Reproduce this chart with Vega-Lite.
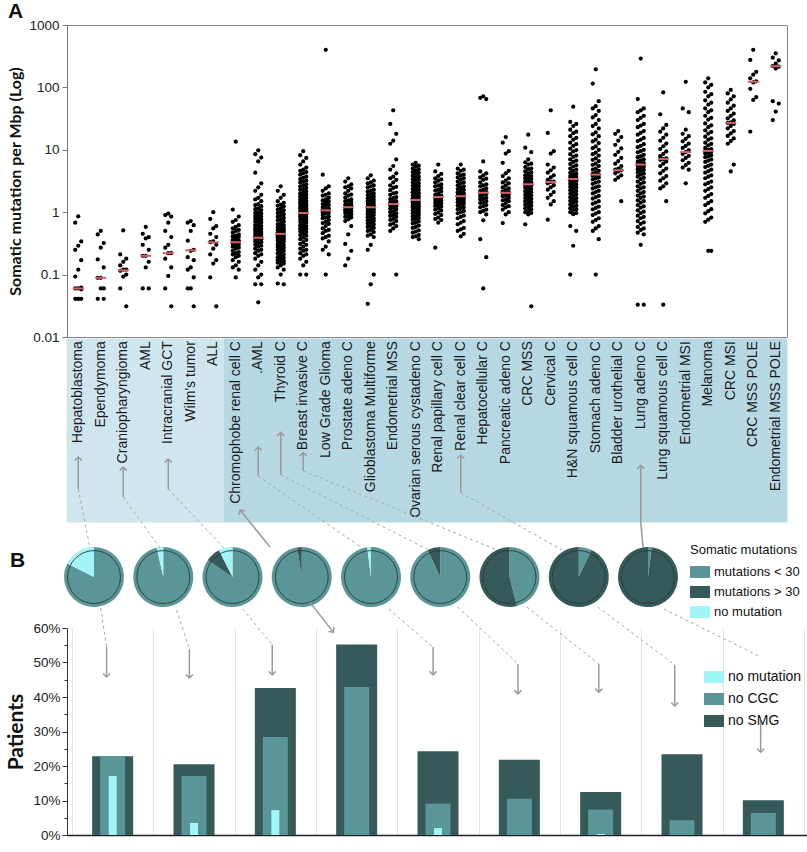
{
"$schema":"https://vega.github.io/schema/vega-lite/v6.json",
"background":"white",
"padding":{"left":5,"top":0,"right":0,"bottom":0},
"bounds":"flush",
"spacing":2,
"resolve":{"scale":{"color":"independent"},"legend":{"color":"independent"}},
"config":{
 "font":"Liberation Sans",
 "view":{"stroke":null},
 "axis":{"labelFont":"Liberation Sans","labelFontSize":13.5,"labelColor":"#222","titleColor":"#111","domainColor":"#555","tickColor":"#555"},
 "legend":{"labelFont":"Liberation Sans","titleFont":"Liberation Sans","labelColor":"#111","titleColor":"#111"},
 "title":{"font":"Liberation Sans","color":"#111"}
},
"datasets":{
"pts":[
{"c":0,"v":0.86},{"c":0,"v":0.68},{"c":0,"v":0.34},{"c":0,"v":0.29},{"c":0,"v":0.25},{"c":0,"v":0.17},{"c":0,"v":0.12},{"c":0,"v":0.093},{"c":0,"v":0.062},{"c":0,"v":0.06},{"c":0,"v":0.06},{"c":0,"v":0.058},{"c":0,"v":0.041},{"c":0,"v":0.041},{"c":0,"v":0.041},{"c":0,"v":0.041},
{"c":1,"v":0.5},{"c":1,"v":0.44},{"c":1,"v":0.32},{"c":1,"v":0.27},{"c":1,"v":0.175},{"c":1,"v":0.13},{"c":1,"v":0.089},{"c":1,"v":0.089},{"c":1,"v":0.06},{"c":1,"v":0.06},{"c":1,"v":0.041},{"c":1,"v":0.041},
{"c":2,"v":0.51},{"c":2,"v":0.21},{"c":2,"v":0.18},{"c":2,"v":0.16},{"c":2,"v":0.14},{"c":2,"v":0.12},{"c":2,"v":0.12},{"c":2,"v":0.115},{"c":2,"v":0.1},{"c":2,"v":0.093},{"c":2,"v":0.06},{"c":2,"v":0.031},
{"c":3,"v":0.58},{"c":3,"v":0.45},{"c":3,"v":0.4},{"c":3,"v":0.38},{"c":3,"v":0.3},{"c":3,"v":0.25},{"c":3,"v":0.2},{"c":3,"v":0.2},{"c":3,"v":0.16},{"c":3,"v":0.13},{"c":3,"v":0.06},{"c":3,"v":0.06},
{"c":4,"v":0.95},{"c":4,"v":0.9},{"c":4,"v":0.85},{"c":4,"v":0.68},{"c":4,"v":0.5},{"c":4,"v":0.4},{"c":4,"v":0.3},{"c":4,"v":0.27},{"c":4,"v":0.22},{"c":4,"v":0.22},{"c":4,"v":0.18},{"c":4,"v":0.13},{"c":4,"v":0.095},{"c":4,"v":0.06},{"c":4,"v":0.031},
{"c":5,"v":0.72},{"c":5,"v":0.68},{"c":5,"v":0.62},{"c":5,"v":0.5},{"c":5,"v":0.35},{"c":5,"v":0.25},{"c":5,"v":0.24},{"c":5,"v":0.19},{"c":5,"v":0.17},{"c":5,"v":0.13},{"c":5,"v":0.12},{"c":5,"v":0.09},{"c":5,"v":0.06},{"c":5,"v":0.06},{"c":5,"v":0.031},
{"c":6,"v":1.0},{"c":6,"v":0.78},{"c":6,"v":0.6},{"c":6,"v":0.55},{"c":6,"v":0.45},{"c":6,"v":0.4},{"c":6,"v":0.34},{"c":6,"v":0.33},{"c":6,"v":0.3},{"c":6,"v":0.26},{"c":6,"v":0.21},{"c":6,"v":0.17},{"c":6,"v":0.15},{"c":6,"v":0.09},{"c":6,"v":0.031},
{"c":7,"v":13.5},{"c":7,"v":1.1},{"c":7,"v":0.85},{"c":7,"v":0.75},{"c":7,"v":0.7},{"c":7,"v":0.62},{"c":7,"v":0.58},{"c":7,"v":0.55},{"c":7,"v":0.5},{"c":7,"v":0.47},{"c":7,"v":0.44},{"c":7,"v":0.42},{"c":7,"v":0.4},{"c":7,"v":0.38},{"c":7,"v":0.36},{"c":7,"v":0.34},{"c":7,"v":0.33},{"c":7,"v":0.33},{"c":7,"v":0.32},{"c":7,"v":0.3},{"c":7,"v":0.29},{"c":7,"v":0.27},{"c":7,"v":0.26},{"c":7,"v":0.24},{"c":7,"v":0.23},{"c":7,"v":0.21},{"c":7,"v":0.2},{"c":7,"v":0.19},{"c":7,"v":0.17},{"c":7,"v":0.16},{"c":7,"v":0.14},{"c":7,"v":0.13},{"c":7,"v":0.12},{"c":7,"v":0.09},{"c":7,"v":0.52},{"c":7,"v":0.41},{"c":7,"v":0.35},{"c":7,"v":0.31},{"c":7,"v":0.28},{"c":7,"v":0.22},
{"c":8,"v":9.8},{"c":8,"v":8.5},{"c":8,"v":7.5},{"c":8,"v":6.5},{"c":8,"v":4.3},{"c":8,"v":2.9},{"c":8,"v":2.5},{"c":8,"v":2.2},{"c":8,"v":1.9},{"c":8,"v":1.7},{"c":8,"v":1.5},{"c":8,"v":1.35},{"c":8,"v":1.25},{"c":8,"v":1.15},{"c":8,"v":1.08},{"c":8,"v":1.0},{"c":8,"v":0.95},{"c":8,"v":0.9},{"c":8,"v":0.85},{"c":8,"v":0.8},{"c":8,"v":0.76},{"c":8,"v":0.72},{"c":8,"v":0.68},{"c":8,"v":0.64},{"c":8,"v":0.6},{"c":8,"v":0.57},{"c":8,"v":0.54},{"c":8,"v":0.51},{"c":8,"v":0.48},{"c":8,"v":0.46},{"c":8,"v":0.44},{"c":8,"v":0.42},{"c":8,"v":0.4},{"c":8,"v":0.39},{"c":8,"v":0.38},{"c":8,"v":0.36},{"c":8,"v":0.34},{"c":8,"v":0.32},{"c":8,"v":0.3},{"c":8,"v":0.28},{"c":8,"v":0.26},{"c":8,"v":0.24},{"c":8,"v":0.22},{"c":8,"v":0.2},{"c":8,"v":0.18},{"c":8,"v":0.16},{"c":8,"v":0.14},{"c":8,"v":0.12},{"c":8,"v":0.1},{"c":8,"v":0.09},{"c":8,"v":0.07},{"c":8,"v":0.07},{"c":8,"v":0.036},{"c":8,"v":1.6},{"c":8,"v":1.3},{"c":8,"v":1.12},{"c":8,"v":0.98},{"c":8,"v":0.87},{"c":8,"v":0.78},{"c":8,"v":0.7},{"c":8,"v":0.62},{"c":8,"v":0.55},{"c":8,"v":0.5},{"c":8,"v":0.45},{"c":8,"v":0.41},{"c":8,"v":0.37},{"c":8,"v":0.33},{"c":8,"v":0.29},{"c":8,"v":0.25},{"c":8,"v":0.21},
{"c":9,"v":2.6},{"c":9,"v":2.2},{"c":9,"v":1.9},{"c":9,"v":1.7},{"c":9,"v":1.5},{"c":9,"v":1.41},{"c":9,"v":1.32},{"c":9,"v":1.23},{"c":9,"v":1.15},{"c":9,"v":1.07},{"c":9,"v":1.0},{"c":9,"v":0.93},{"c":9,"v":0.87},{"c":9,"v":0.81},{"c":9,"v":0.76},{"c":9,"v":0.71},{"c":9,"v":0.66},{"c":9,"v":0.62},{"c":9,"v":0.58},{"c":9,"v":0.55},{"c":9,"v":0.52},{"c":9,"v":0.5},{"c":9,"v":0.48},{"c":9,"v":0.46},{"c":9,"v":0.46},{"c":9,"v":0.44},{"c":9,"v":0.42},{"c":9,"v":0.41},{"c":9,"v":0.4},{"c":9,"v":0.38},{"c":9,"v":0.36},{"c":9,"v":0.35},{"c":9,"v":0.33},{"c":9,"v":0.31},{"c":9,"v":0.29},{"c":9,"v":0.27},{"c":9,"v":0.26},{"c":9,"v":0.25},{"c":9,"v":0.23},{"c":9,"v":0.22},{"c":9,"v":0.2},{"c":9,"v":0.19},{"c":9,"v":0.18},{"c":9,"v":0.17},{"c":9,"v":0.16},{"c":9,"v":0.15},{"c":9,"v":0.14},{"c":9,"v":0.13},{"c":9,"v":0.12},{"c":9,"v":0.1},{"c":9,"v":0.072},{"c":9,"v":0.07},{"c":9,"v":1.28},{"c":9,"v":1.1},{"c":9,"v":0.97},{"c":9,"v":0.84},{"c":9,"v":0.74},{"c":9,"v":0.64},{"c":9,"v":0.57},{"c":9,"v":0.51},{"c":9,"v":0.47},{"c":9,"v":0.43},{"c":9,"v":0.39},{"c":9,"v":0.37},{"c":9,"v":0.34},{"c":9,"v":0.3},{"c":9,"v":0.28},{"c":9,"v":0.24},{"c":9,"v":0.21},{"c":9,"v":0.185},{"c":9,"v":0.165},{"c":9,"v":0.155},
{"c":10,"v":9.5},{"c":10,"v":8.2},{"c":10,"v":7.4},{"c":10,"v":6.5},{"c":10,"v":5.8},{"c":10,"v":5.2},{"c":10,"v":4.8},{"c":10,"v":4.4},{"c":10,"v":4.0},{"c":10,"v":3.7},{"c":10,"v":3.4},{"c":10,"v":3.2},{"c":10,"v":3.0},{"c":10,"v":2.8},{"c":10,"v":2.6},{"c":10,"v":2.45},{"c":10,"v":2.3},{"c":10,"v":2.15},{"c":10,"v":2.0},{"c":10,"v":1.9},{"c":10,"v":1.8},{"c":10,"v":1.7},{"c":10,"v":1.6},{"c":10,"v":1.52},{"c":10,"v":1.45},{"c":10,"v":1.38},{"c":10,"v":1.32},{"c":10,"v":1.26},{"c":10,"v":1.2},{"c":10,"v":1.15},{"c":10,"v":1.1},{"c":10,"v":1.05},{"c":10,"v":1.0},{"c":10,"v":1.0},{"c":10,"v":0.96},{"c":10,"v":0.92},{"c":10,"v":0.88},{"c":10,"v":0.84},{"c":10,"v":0.8},{"c":10,"v":0.76},{"c":10,"v":0.72},{"c":10,"v":0.68},{"c":10,"v":0.64},{"c":10,"v":0.6},{"c":10,"v":0.57},{"c":10,"v":0.54},{"c":10,"v":0.51},{"c":10,"v":0.48},{"c":10,"v":0.45},{"c":10,"v":0.42},{"c":10,"v":0.39},{"c":10,"v":0.36},{"c":10,"v":0.33},{"c":10,"v":0.3},{"c":10,"v":0.28},{"c":10,"v":0.26},{"c":10,"v":0.24},{"c":10,"v":0.22},{"c":10,"v":0.2},{"c":10,"v":0.18},{"c":10,"v":0.16},{"c":10,"v":0.14},{"c":10,"v":0.1},{"c":10,"v":0.1},{"c":10,"v":4.6},{"c":10,"v":4.2},{"c":10,"v":3.55},{"c":10,"v":3.1},{"c":10,"v":2.7},{"c":10,"v":2.35},{"c":10,"v":2.05},{"c":10,"v":1.85},{"c":10,"v":1.65},{"c":10,"v":1.48},{"c":10,"v":1.35},{"c":10,"v":1.23},{"c":10,"v":1.12},{"c":10,"v":1.02},{"c":10,"v":0.94},{"c":10,"v":0.86},{"c":10,"v":0.78},{"c":10,"v":0.7},{"c":10,"v":0.62},{"c":10,"v":0.55},{"c":10,"v":0.49},{"c":10,"v":0.43},{"c":10,"v":0.37},{"c":10,"v":0.31},{"c":10,"v":0.25},{"c":10,"v":0.21},
{"c":11,"v":400},{"c":11,"v":4.0},{"c":11,"v":2.6},{"c":11,"v":2.4},{"c":11,"v":2.2},{"c":11,"v":2.0},{"c":11,"v":1.85},{"c":11,"v":1.72},{"c":11,"v":1.6},{"c":11,"v":1.5},{"c":11,"v":1.42},{"c":11,"v":1.35},{"c":11,"v":1.28},{"c":11,"v":1.21},{"c":11,"v":1.15},{"c":11,"v":1.1},{"c":11,"v":1.07},{"c":11,"v":1.04},{"c":11,"v":1.0},{"c":11,"v":0.95},{"c":11,"v":0.9},{"c":11,"v":0.85},{"c":11,"v":0.8},{"c":11,"v":0.75},{"c":11,"v":0.7},{"c":11,"v":0.65},{"c":11,"v":0.6},{"c":11,"v":0.55},{"c":11,"v":0.5},{"c":11,"v":0.46},{"c":11,"v":0.42},{"c":11,"v":0.38},{"c":11,"v":0.34},{"c":11,"v":0.28},{"c":11,"v":0.25},{"c":11,"v":0.21},{"c":11,"v":0.1},{"c":11,"v":1.9},{"c":11,"v":1.55},{"c":11,"v":1.31},{"c":11,"v":1.12},{"c":11,"v":0.97},{"c":11,"v":0.82},{"c":11,"v":0.67},{"c":11,"v":0.52},{"c":11,"v":0.4},
{"c":12,"v":3.5},{"c":12,"v":3.1},{"c":12,"v":2.8},{"c":12,"v":2.6},{"c":12,"v":2.4},{"c":12,"v":2.2},{"c":12,"v":2.0},{"c":12,"v":1.85},{"c":12,"v":1.72},{"c":12,"v":1.6},{"c":12,"v":1.5},{"c":12,"v":1.42},{"c":12,"v":1.35},{"c":12,"v":1.28},{"c":12,"v":1.22},{"c":12,"v":1.17},{"c":12,"v":1.12},{"c":12,"v":1.07},{"c":12,"v":1.02},{"c":12,"v":0.97},{"c":12,"v":0.92},{"c":12,"v":0.87},{"c":12,"v":0.82},{"c":12,"v":0.77},{"c":12,"v":0.72},{"c":12,"v":0.6},{"c":12,"v":0.44},{"c":12,"v":0.31},{"c":12,"v":0.24},{"c":12,"v":0.18},{"c":12,"v":0.14},{"c":12,"v":2.5},{"c":12,"v":1.92},{"c":12,"v":1.55},{"c":12,"v":1.31},{"c":12,"v":1.14},{"c":12,"v":0.99},{"c":12,"v":0.84},
{"c":13,"v":3.9},{"c":13,"v":3.5},{"c":13,"v":3.2},{"c":13,"v":2.9},{"c":13,"v":2.7},{"c":13,"v":2.5},{"c":13,"v":2.3},{"c":13,"v":2.15},{"c":13,"v":2.0},{"c":13,"v":1.88},{"c":13,"v":1.77},{"c":13,"v":1.67},{"c":13,"v":1.58},{"c":13,"v":1.5},{"c":13,"v":1.42},{"c":13,"v":1.35},{"c":13,"v":1.28},{"c":13,"v":1.22},{"c":13,"v":1.2},{"c":13,"v":1.16},{"c":13,"v":1.1},{"c":13,"v":1.05},{"c":13,"v":1.0},{"c":13,"v":0.95},{"c":13,"v":0.9},{"c":13,"v":0.85},{"c":13,"v":0.8},{"c":13,"v":0.76},{"c":13,"v":0.72},{"c":13,"v":0.68},{"c":13,"v":0.64},{"c":13,"v":0.6},{"c":13,"v":0.56},{"c":13,"v":0.52},{"c":13,"v":0.48},{"c":13,"v":0.44},{"c":13,"v":0.4},{"c":13,"v":0.3},{"c":13,"v":0.25},{"c":13,"v":0.1},{"c":13,"v":0.07},{"c":13,"v":0.034},{"c":13,"v":3.0},{"c":13,"v":2.6},{"c":13,"v":2.2},{"c":13,"v":1.95},{"c":13,"v":1.72},{"c":13,"v":1.54},{"c":13,"v":1.38},{"c":13,"v":1.25},{"c":13,"v":1.13},{"c":13,"v":1.02},{"c":13,"v":0.92},{"c":13,"v":0.83},{"c":13,"v":0.74},{"c":13,"v":0.66},{"c":13,"v":0.58},{"c":13,"v":0.5},{"c":13,"v":0.42},
{"c":14,"v":43},{"c":14,"v":26},{"c":14,"v":18},{"c":14,"v":14},{"c":14,"v":12.5},{"c":14,"v":7},{"c":14,"v":5.5},{"c":14,"v":4.8},{"c":14,"v":4.2},{"c":14,"v":3.7},{"c":14,"v":3.3},{"c":14,"v":3.0},{"c":14,"v":2.7},{"c":14,"v":2.45},{"c":14,"v":2.25},{"c":14,"v":2.05},{"c":14,"v":1.9},{"c":14,"v":1.75},{"c":14,"v":1.62},{"c":14,"v":1.5},{"c":14,"v":1.42},{"c":14,"v":1.35},{"c":14,"v":1.3},{"c":14,"v":1.25},{"c":14,"v":1.18},{"c":14,"v":1.1},{"c":14,"v":1.03},{"c":14,"v":0.96},{"c":14,"v":0.9},{"c":14,"v":0.84},{"c":14,"v":0.78},{"c":14,"v":0.72},{"c":14,"v":0.66},{"c":14,"v":0.6},{"c":14,"v":0.55},{"c":14,"v":0.5},{"c":14,"v":0.1},{"c":14,"v":3.5},{"c":14,"v":2.55},{"c":14,"v":2.0},{"c":14,"v":1.68},{"c":14,"v":1.46},{"c":14,"v":1.28},{"c":14,"v":1.14},{"c":14,"v":1.0},{"c":14,"v":0.87},{"c":14,"v":0.75},{"c":14,"v":0.63},
{"c":15,"v":6.2},{"c":15,"v":5.8},{"c":15,"v":5.4},{"c":15,"v":5.0},{"c":15,"v":4.7},{"c":15,"v":4.4},{"c":15,"v":4.1},{"c":15,"v":3.85},{"c":15,"v":3.6},{"c":15,"v":3.4},{"c":15,"v":3.2},{"c":15,"v":3.0},{"c":15,"v":2.8},{"c":15,"v":2.65},{"c":15,"v":2.5},{"c":15,"v":2.35},{"c":15,"v":2.2},{"c":15,"v":2.08},{"c":15,"v":1.96},{"c":15,"v":1.85},{"c":15,"v":1.75},{"c":15,"v":1.66},{"c":15,"v":1.6},{"c":15,"v":1.57},{"c":15,"v":1.52},{"c":15,"v":1.45},{"c":15,"v":1.38},{"c":15,"v":1.31},{"c":15,"v":1.25},{"c":15,"v":1.19},{"c":15,"v":1.13},{"c":15,"v":1.07},{"c":15,"v":1.01},{"c":15,"v":0.96},{"c":15,"v":0.91},{"c":15,"v":0.86},{"c":15,"v":0.81},{"c":15,"v":0.76},{"c":15,"v":0.71},{"c":15,"v":0.66},{"c":15,"v":0.61},{"c":15,"v":0.56},{"c":15,"v":0.51},{"c":15,"v":0.47},{"c":15,"v":0.43},{"c":15,"v":0.4},{"c":15,"v":0.37},{"c":15,"v":5.6},{"c":15,"v":4.9},{"c":15,"v":4.25},{"c":15,"v":3.7},{"c":15,"v":3.3},{"c":15,"v":2.9},{"c":15,"v":2.57},{"c":15,"v":2.28},{"c":15,"v":2.02},{"c":15,"v":1.8},{"c":15,"v":1.62},{"c":15,"v":1.48},{"c":15,"v":1.34},{"c":15,"v":1.22},{"c":15,"v":1.1},{"c":15,"v":0.98},{"c":15,"v":0.88},{"c":15,"v":0.78},{"c":15,"v":0.68},{"c":15,"v":0.58},{"c":15,"v":0.49},{"c":15,"v":0.41},
{"c":16,"v":5.8},{"c":16,"v":4.5},{"c":16,"v":4.1},{"c":16,"v":3.8},{"c":16,"v":3.5},{"c":16,"v":3.2},{"c":16,"v":3.0},{"c":16,"v":2.8},{"c":16,"v":2.6},{"c":16,"v":2.45},{"c":16,"v":2.3},{"c":16,"v":2.15},{"c":16,"v":2.0},{"c":16,"v":1.9},{"c":16,"v":1.8},{"c":16,"v":1.75},{"c":16,"v":1.7},{"c":16,"v":1.62},{"c":16,"v":1.54},{"c":16,"v":1.46},{"c":16,"v":1.38},{"c":16,"v":1.3},{"c":16,"v":1.22},{"c":16,"v":1.14},{"c":16,"v":1.06},{"c":16,"v":0.98},{"c":16,"v":0.9},{"c":16,"v":0.82},{"c":16,"v":0.75},{"c":16,"v":0.68},{"c":16,"v":0.27},{"c":16,"v":3.35},{"c":16,"v":2.7},{"c":16,"v":2.22},{"c":16,"v":1.85},{"c":16,"v":1.58},{"c":16,"v":1.42},{"c":16,"v":1.26},{"c":16,"v":1.1},{"c":16,"v":0.94},{"c":16,"v":0.78},
{"c":17,"v":5.8},{"c":17,"v":5.0},{"c":17,"v":4.6},{"c":17,"v":4.2},{"c":17,"v":3.9},{"c":17,"v":3.6},{"c":17,"v":3.35},{"c":17,"v":3.1},{"c":17,"v":2.9},{"c":17,"v":2.7},{"c":17,"v":2.5},{"c":17,"v":2.35},{"c":17,"v":2.2},{"c":17,"v":2.08},{"c":17,"v":1.96},{"c":17,"v":1.85},{"c":17,"v":1.8},{"c":17,"v":1.75},{"c":17,"v":1.68},{"c":17,"v":1.6},{"c":17,"v":1.52},{"c":17,"v":1.44},{"c":17,"v":1.36},{"c":17,"v":1.28},{"c":17,"v":1.2},{"c":17,"v":1.12},{"c":17,"v":1.04},{"c":17,"v":0.96},{"c":17,"v":0.88},{"c":17,"v":0.8},{"c":17,"v":0.72},{"c":17,"v":0.64},{"c":17,"v":0.56},{"c":17,"v":0.5},{"c":17,"v":0.45},{"c":17,"v":0.41},{"c":17,"v":4.8},{"c":17,"v":4.0},{"c":17,"v":3.5},{"c":17,"v":3.0},{"c":17,"v":2.6},{"c":17,"v":2.28},{"c":17,"v":2.02},{"c":17,"v":1.82},{"c":17,"v":1.64},{"c":17,"v":1.48},{"c":17,"v":1.32},{"c":17,"v":1.16},{"c":17,"v":1.0},{"c":17,"v":0.84},{"c":17,"v":0.68},{"c":17,"v":0.53},
{"c":18,"v":72},{"c":18,"v":68},{"c":18,"v":65},{"c":18,"v":6.5},{"c":18,"v":4.5},{"c":18,"v":4.2},{"c":18,"v":3.9},{"c":18,"v":3.6},{"c":18,"v":3.3},{"c":18,"v":3.0},{"c":18,"v":2.8},{"c":18,"v":2.6},{"c":18,"v":2.4},{"c":18,"v":2.2},{"c":18,"v":2.1},{"c":18,"v":2.05},{"c":18,"v":2.0},{"c":18,"v":1.9},{"c":18,"v":1.8},{"c":18,"v":1.7},{"c":18,"v":1.6},{"c":18,"v":1.5},{"c":18,"v":1.4},{"c":18,"v":1.3},{"c":18,"v":1.2},{"c":18,"v":1.1},{"c":18,"v":1.0},{"c":18,"v":0.92},{"c":18,"v":0.74},{"c":18,"v":0.37},{"c":18,"v":0.19},{"c":18,"v":0.06},{"c":18,"v":3.45},{"c":18,"v":2.7},{"c":18,"v":2.3},{"c":18,"v":1.95},{"c":18,"v":1.65},{"c":18,"v":1.45},{"c":18,"v":1.25},{"c":18,"v":1.05},
{"c":19,"v":16},{"c":19,"v":13},{"c":19,"v":9.5},{"c":19,"v":8.7},{"c":19,"v":6.2},{"c":19,"v":4.6},{"c":19,"v":4.2},{"c":19,"v":3.8},{"c":19,"v":3.5},{"c":19,"v":3.2},{"c":19,"v":2.9},{"c":19,"v":2.7},{"c":19,"v":2.5},{"c":19,"v":2.3},{"c":19,"v":2.15},{"c":19,"v":2.05},{"c":19,"v":2.0},{"c":19,"v":1.9},{"c":19,"v":1.8},{"c":19,"v":1.7},{"c":19,"v":1.6},{"c":19,"v":1.5},{"c":19,"v":1.4},{"c":19,"v":1.3},{"c":19,"v":1.2},{"c":19,"v":1.1},{"c":19,"v":1.0},{"c":19,"v":0.92},{"c":19,"v":0.67},{"c":19,"v":3.0},{"c":19,"v":2.4},{"c":19,"v":2.1},{"c":19,"v":1.85},{"c":19,"v":1.55},{"c":19,"v":1.25},
{"c":20,"v":17.5},{"c":20,"v":10.8},{"c":20,"v":9.2},{"c":20,"v":7.0},{"c":20,"v":6.3},{"c":20,"v":5.8},{"c":20,"v":5.3},{"c":20,"v":4.9},{"c":20,"v":4.5},{"c":20,"v":4.2},{"c":20,"v":3.9},{"c":20,"v":3.7},{"c":20,"v":3.5},{"c":20,"v":3.3},{"c":20,"v":3.1},{"c":20,"v":2.95},{"c":20,"v":2.85},{"c":20,"v":2.8},{"c":20,"v":2.75},{"c":20,"v":2.65},{"c":20,"v":2.5},{"c":20,"v":2.35},{"c":20,"v":2.2},{"c":20,"v":2.08},{"c":20,"v":1.96},{"c":20,"v":1.85},{"c":20,"v":1.74},{"c":20,"v":1.64},{"c":20,"v":1.54},{"c":20,"v":1.45},{"c":20,"v":1.36},{"c":20,"v":1.28},{"c":20,"v":1.2},{"c":20,"v":1.12},{"c":20,"v":1.04},{"c":20,"v":0.97},{"c":20,"v":0.92},{"c":20,"v":0.64},{"c":20,"v":0.031},{"c":20,"v":6.0},{"c":20,"v":5.0},{"c":20,"v":4.35},{"c":20,"v":3.8},{"c":20,"v":3.4},{"c":20,"v":3.0},{"c":20,"v":2.7},{"c":20,"v":2.45},{"c":20,"v":2.15},{"c":20,"v":1.9},{"c":20,"v":1.69},{"c":20,"v":1.5},{"c":20,"v":1.32},{"c":20,"v":1.16},{"c":20,"v":1.0},
{"c":21,"v":43},{"c":21,"v":18.6},{"c":21,"v":9.5},{"c":21,"v":8.7},{"c":21,"v":5.8},{"c":21,"v":5.2},{"c":21,"v":4.7},{"c":21,"v":4.3},{"c":21,"v":3.9},{"c":21,"v":3.6},{"c":21,"v":3.3},{"c":21,"v":3.1},{"c":21,"v":3.05},{"c":21,"v":2.9},{"c":21,"v":2.7},{"c":21,"v":2.5},{"c":21,"v":2.3},{"c":21,"v":2.1},{"c":21,"v":1.9},{"c":21,"v":1.7},{"c":21,"v":1.5},{"c":21,"v":1.33},{"c":21,"v":0.76},
{"c":22,"v":49},{"c":22,"v":28},{"c":22,"v":24},{"c":22,"v":21},{"c":22,"v":18.5},{"c":22,"v":16.5},{"c":22,"v":14.5},{"c":22,"v":13},{"c":22,"v":11.6},{"c":22,"v":10.4},{"c":22,"v":9.4},{"c":22,"v":8.5},{"c":22,"v":7.7},{"c":22,"v":7.0},{"c":22,"v":6.4},{"c":22,"v":5.9},{"c":22,"v":5.4},{"c":22,"v":5.0},{"c":22,"v":4.6},{"c":22,"v":4.3},{"c":22,"v":4.0},{"c":22,"v":3.8},{"c":22,"v":3.6},{"c":22,"v":3.45},{"c":22,"v":3.4},{"c":22,"v":3.3},{"c":22,"v":3.15},{"c":22,"v":3.0},{"c":22,"v":2.85},{"c":22,"v":2.7},{"c":22,"v":2.55},{"c":22,"v":2.4},{"c":22,"v":2.25},{"c":22,"v":2.1},{"c":22,"v":1.97},{"c":22,"v":1.85},{"c":22,"v":1.73},{"c":22,"v":1.62},{"c":22,"v":1.52},{"c":22,"v":1.42},{"c":22,"v":1.33},{"c":22,"v":1.24},{"c":22,"v":1.16},{"c":22,"v":1.08},{"c":22,"v":1.0},{"c":22,"v":0.93},{"c":22,"v":0.6},{"c":22,"v":0.5},{"c":22,"v":0.29},{"c":22,"v":0.1},{"c":22,"v":26},{"c":22,"v":19.5},{"c":22,"v":15.5},{"c":22,"v":12.3},{"c":22,"v":9.9},{"c":22,"v":8.1},{"c":22,"v":6.7},{"c":22,"v":5.65},{"c":22,"v":4.8},{"c":22,"v":4.15},{"c":22,"v":3.7},{"c":22,"v":3.2},{"c":22,"v":2.78},{"c":22,"v":2.48},{"c":22,"v":2.18},{"c":22,"v":1.91},{"c":22,"v":1.68},{"c":22,"v":1.47},{"c":22,"v":1.28},{"c":22,"v":1.12},{"c":22,"v":0.97},
{"c":23,"v":195},{"c":23,"v":115},{"c":23,"v":60},{"c":23,"v":50},{"c":23,"v":42},{"c":23,"v":36},{"c":23,"v":30},{"c":23,"v":26},{"c":23,"v":22},{"c":23,"v":19},{"c":23,"v":16.5},{"c":23,"v":14.5},{"c":23,"v":12.8},{"c":23,"v":11.3},{"c":23,"v":10},{"c":23,"v":9},{"c":23,"v":8.1},{"c":23,"v":7.3},{"c":23,"v":6.6},{"c":23,"v":6.0},{"c":23,"v":5.5},{"c":23,"v":5.0},{"c":23,"v":4.6},{"c":23,"v":4.3},{"c":23,"v":4.1},{"c":23,"v":4.0},{"c":23,"v":3.85},{"c":23,"v":3.6},{"c":23,"v":3.35},{"c":23,"v":3.1},{"c":23,"v":2.85},{"c":23,"v":2.6},{"c":23,"v":2.4},{"c":23,"v":2.2},{"c":23,"v":2.0},{"c":23,"v":1.82},{"c":23,"v":1.65},{"c":23,"v":1.5},{"c":23,"v":1.36},{"c":23,"v":1.23},{"c":23,"v":1.11},{"c":23,"v":1.0},{"c":23,"v":0.9},{"c":23,"v":0.8},{"c":23,"v":0.7},{"c":23,"v":0.6},{"c":23,"v":0.5},{"c":23,"v":0.37},{"c":23,"v":0.1},{"c":23,"v":46},{"c":23,"v":33},{"c":23,"v":24},{"c":23,"v":17.7},{"c":23,"v":13.6},{"c":23,"v":10.6},{"c":23,"v":8.5},{"c":23,"v":6.9},{"c":23,"v":5.75},{"c":23,"v":4.8},{"c":23,"v":3.95},{"c":23,"v":3.5},{"c":23,"v":2.98},{"c":23,"v":2.5},{"c":23,"v":2.1},{"c":23,"v":1.74},{"c":23,"v":1.43},{"c":23,"v":1.17},{"c":23,"v":0.95},{"c":23,"v":0.75},{"c":23,"v":0.55},
{"c":24,"v":20},{"c":24,"v":18},{"c":24,"v":16},{"c":24,"v":14},{"c":24,"v":12},{"c":24,"v":10.5},{"c":24,"v":9.3},{"c":24,"v":8.3},{"c":24,"v":7.4},{"c":24,"v":6.6},{"c":24,"v":6.0},{"c":24,"v":5.5},{"c":24,"v":5.0},{"c":24,"v":4.8},{"c":24,"v":4.7},{"c":24,"v":4.5},{"c":24,"v":4.2},{"c":24,"v":3.9},{"c":24,"v":3.6},{"c":24,"v":3.3},{"c":24,"v":1.5},
{"c":25,"v":290},{"c":25,"v":65},{"c":25,"v":46},{"c":25,"v":40},{"c":25,"v":35},{"c":25,"v":30},{"c":25,"v":26},{"c":25,"v":23},{"c":25,"v":20},{"c":25,"v":17.5},{"c":25,"v":15.5},{"c":25,"v":13.8},{"c":25,"v":12.3},{"c":25,"v":11},{"c":25,"v":10},{"c":25,"v":9.1},{"c":25,"v":8.3},{"c":25,"v":7.6},{"c":25,"v":7.0},{"c":25,"v":6.5},{"c":25,"v":6.1},{"c":25,"v":5.9},{"c":25,"v":5.8},{"c":25,"v":5.7},{"c":25,"v":5.5},{"c":25,"v":5.2},{"c":25,"v":4.9},{"c":25,"v":4.6},{"c":25,"v":4.3},{"c":25,"v":4.0},{"c":25,"v":3.7},{"c":25,"v":3.4},{"c":25,"v":3.1},{"c":25,"v":2.85},{"c":25,"v":2.6},{"c":25,"v":2.4},{"c":25,"v":2.2},{"c":25,"v":2.0},{"c":25,"v":1.85},{"c":25,"v":1.7},{"c":25,"v":1.55},{"c":25,"v":1.42},{"c":25,"v":1.3},{"c":25,"v":1.18},{"c":25,"v":1.07},{"c":25,"v":0.97},{"c":25,"v":0.88},{"c":25,"v":0.8},{"c":25,"v":0.72},{"c":25,"v":0.65},{"c":25,"v":0.58},{"c":25,"v":0.52},{"c":25,"v":0.47},{"c":25,"v":0.44},{"c":25,"v":0.3},{"c":25,"v":0.033},{"c":25,"v":0.033},{"c":25,"v":43},{"c":25,"v":32.5},{"c":25,"v":24.5},{"c":25,"v":18.7},{"c":25,"v":14.6},{"c":25,"v":11.6},{"c":25,"v":9.5},{"c":25,"v":7.9},{"c":25,"v":6.8},{"c":25,"v":6.0},{"c":25,"v":5.35},{"c":25,"v":4.75},{"c":25,"v":4.15},{"c":25,"v":3.55},{"c":25,"v":3.0},{"c":25,"v":2.5},{"c":25,"v":2.1},{"c":25,"v":1.78},{"c":25,"v":1.5},{"c":25,"v":1.24},{"c":25,"v":1.02},{"c":25,"v":0.84},{"c":25,"v":0.69},{"c":25,"v":0.55},
{"c":26,"v":83},{"c":26,"v":37},{"c":26,"v":25},{"c":26,"v":22},{"c":26,"v":19.5},{"c":26,"v":17.5},{"c":26,"v":15.6},{"c":26,"v":14},{"c":26,"v":12.6},{"c":26,"v":11.4},{"c":26,"v":10.3},{"c":26,"v":9.4},{"c":26,"v":8.6},{"c":26,"v":7.9},{"c":26,"v":7.3},{"c":26,"v":7.1},{"c":26,"v":6.9},{"c":26,"v":6.5},{"c":26,"v":6.0},{"c":26,"v":5.5},{"c":26,"v":5.0},{"c":26,"v":4.6},{"c":26,"v":4.2},{"c":26,"v":3.8},{"c":26,"v":3.5},{"c":26,"v":3.2},{"c":26,"v":2.9},{"c":26,"v":2.6},{"c":26,"v":2.4},{"c":26,"v":1.5},{"c":26,"v":0.033},
{"c":27,"v":123},{"c":27,"v":46},{"c":27,"v":40},{"c":27,"v":21},{"c":27,"v":18},{"c":27,"v":16.5},{"c":27,"v":15},{"c":27,"v":13.7},{"c":27,"v":12.6},{"c":27,"v":11.6},{"c":27,"v":10.7},{"c":27,"v":9.9},{"c":27,"v":9.2},{"c":27,"v":8.6},{"c":27,"v":8.0},{"c":27,"v":7.4},{"c":27,"v":6.8},{"c":27,"v":6.2},{"c":27,"v":5.7},{"c":27,"v":5.2},{"c":27,"v":4.8},{"c":27,"v":2.9},
{"c":28,"v":140},{"c":28,"v":120},{"c":28,"v":100},{"c":28,"v":85},{"c":28,"v":72},{"c":28,"v":62},{"c":28,"v":53},{"c":28,"v":46},{"c":28,"v":40},{"c":28,"v":35},{"c":28,"v":30.5},{"c":28,"v":26.5},{"c":28,"v":23},{"c":28,"v":20.5},{"c":28,"v":18.2},{"c":28,"v":16.2},{"c":28,"v":14.5},{"c":28,"v":13},{"c":28,"v":11.8},{"c":28,"v":10.7},{"c":28,"v":10},{"c":28,"v":9.6},{"c":28,"v":9.3},{"c":28,"v":8.8},{"c":28,"v":8.2},{"c":28,"v":7.6},{"c":28,"v":7.0},{"c":28,"v":6.4},{"c":28,"v":5.8},{"c":28,"v":5.3},{"c":28,"v":4.8},{"c":28,"v":4.3},{"c":28,"v":3.9},{"c":28,"v":3.5},{"c":28,"v":3.1},{"c":28,"v":2.8},{"c":28,"v":2.5},{"c":28,"v":2.2},{"c":28,"v":1.95},{"c":28,"v":1.7},{"c":28,"v":1.5},{"c":28,"v":1.3},{"c":28,"v":1.12},{"c":28,"v":0.96},{"c":28,"v":0.82},{"c":28,"v":0.7},{"c":28,"v":0.24},{"c":28,"v":0.24},{"c":28,"v":110},{"c":28,"v":78},{"c":28,"v":57},{"c":28,"v":43},{"c":28,"v":32.5},{"c":28,"v":24.7},{"c":28,"v":19.3},{"c":28,"v":15.3},{"c":28,"v":12.4},{"c":28,"v":10.3},{"c":28,"v":9.0},{"c":28,"v":7.9},{"c":28,"v":6.7},{"c":28,"v":5.55},{"c":28,"v":4.55},{"c":28,"v":3.7},{"c":28,"v":2.95},{"c":28,"v":2.35},{"c":28,"v":1.82},{"c":28,"v":1.4},{"c":28,"v":1.04},{"c":28,"v":0.76},
{"c":29,"v":91},{"c":29,"v":80},{"c":29,"v":72},{"c":29,"v":64},{"c":29,"v":57},{"c":29,"v":51},{"c":29,"v":46},{"c":29,"v":42},{"c":29,"v":38},{"c":29,"v":35},{"c":29,"v":32},{"c":29,"v":29.5},{"c":29,"v":27.5},{"c":29,"v":27},{"c":29,"v":26},{"c":29,"v":24},{"c":29,"v":22},{"c":29,"v":20},{"c":29,"v":18.3},{"c":29,"v":16.7},{"c":29,"v":15.2},{"c":29,"v":13.8},{"c":29,"v":12.5},{"c":29,"v":5.8},{"c":29,"v":4.5},
{"c":30,"v":400},{"c":30,"v":275},{"c":30,"v":178},{"c":30,"v":160},{"c":30,"v":140},{"c":30,"v":125},{"c":30,"v":120},{"c":30,"v":95},{"c":30,"v":70},{"c":30,"v":63},{"c":30,"v":19.6},
{"c":31,"v":350},{"c":31,"v":300},{"c":31,"v":270},{"c":31,"v":240},{"c":31,"v":220},{"c":31,"v":215},{"c":31,"v":200},{"c":31,"v":60},{"c":31,"v":55},{"c":31,"v":41},{"c":31,"v":30}
],
"med":[{"c":0,"m":0.06},{"c":1,"m":0.089},{"c":2,"m":0.117},{"c":3,"m":0.2},{"c":4,"m":0.22},{"c":5,"m":0.245},{"c":6,"m":0.33},{"c":7,"m":0.33},{"c":8,"m":0.39},{"c":9,"m":0.45},{"c":10,"m":0.97},{"c":11,"m":1.07},{"c":12,"m":1.2},{"c":13,"m":1.2},{"c":14,"m":1.35},{"c":15,"m":1.57},{"c":16,"m":1.75},{"c":17,"m":1.8},{"c":18,"m":2.05},{"c":19,"m":2.05},{"c":20,"m":2.8},{"c":21,"m":3.05},{"c":22,"m":3.4},{"c":23,"m":4.0},{"c":24,"m":4.7},{"c":25,"m":5.8},{"c":26,"m":7.1},{"c":27,"m":9.2},{"c":28,"m":9.6},{"c":29,"m":27},{"c":30,"m":123},{"c":31,"m":218}],
"cats":[{"c":0,"name":"Hepatoblastoma","grp":"a"},{"c":1,"name":"Ependymoma","grp":"a"},{"c":2,"name":"Craniopharyngioma","grp":"a"},{"c":3,"name":"AML","grp":"a"},{"c":4,"name":"Intracranial GCT","grp":"a"},{"c":5,"name":"Wilm's tumor","grp":"a"},{"c":6,"name":"ALL","grp":"a"},{"c":7,"name":"Chromophobe renal cell C","grp":"b"},{"c":8,"name":".AML","grp":"b"},{"c":9,"name":"Thyroid C","grp":"b"},{"c":10,"name":"Breast invasive C","grp":"b"},{"c":11,"name":"Low Grade Glioma","grp":"b"},{"c":12,"name":"Prostate adeno C","grp":"b"},{"c":13,"name":"Glioblastoma Multiforme","grp":"b"},{"c":14,"name":"Endometrial MSS","grp":"b"},{"c":15,"name":"Ovarian serous cystadeno C","grp":"b"},{"c":16,"name":"Renal papillary cell C","grp":"b"},{"c":17,"name":"Renal clear cell C","grp":"b"},{"c":18,"name":"Hepatocellular C","grp":"b"},{"c":19,"name":"Pancreatic adeno C","grp":"b"},{"c":20,"name":"CRC MSS","grp":"b"},{"c":21,"name":"Cervical C","grp":"b"},{"c":22,"name":"H&N squamous cell C","grp":"b"},{"c":23,"name":"Stomach adeno C","grp":"b"},{"c":24,"name":"Bladder urothelial C","grp":"b"},{"c":25,"name":"Lung adeno C","grp":"b"},{"c":26,"name":"Lung  squamous cell C","grp":"b"},{"c":27,"name":"Endometrial MSI","grp":"b"},{"c":28,"name":"Melanoma","grp":"b"},{"c":29,"name":"CRC MSI","grp":"b"},{"c":30,"name":"CRC MSS POLE","grp":"b"},{"c":31,"name":"Endometrial MSS POLE","grp":"b"}],
"bandarrows":[{"c":0,"a":0.18,"b":0.355},{"c":2,"a":0.137,"b":0.3},{"c":4,"a":0.18,"b":0.344},{"c":8,"a":0.25,"b":0.41},{"c":9,"a":0.257,"b":0.49},{"c":10,"a":0.28,"b":0.38},{"c":17,"a":0.16,"b":0.366},{"c":25,"a":0,"b":0.31}],
"pies":[{"p":1,"s":"mutations < 30","f":82.5},{"p":1,"s":"no mutation","f":17.5},{"p":2,"s":"mutations < 30","f":96.5},{"p":2,"s":"no mutation","f":3.5},{"p":3,"s":"mutations < 30","f":84.5},{"p":3,"s":"mutations > 30","f":8},{"p":3,"s":"no mutation","f":7.5},{"p":4,"s":"mutations < 30","f":97.5},{"p":4,"s":"mutations > 30","f":2.5},{"p":5,"s":"mutations < 30","f":98},{"p":5,"s":"no mutation","f":2},{"p":6,"s":"mutations < 30","f":93},{"p":6,"s":"mutations > 30","f":7},{"p":7,"s":"mutations < 30","f":46},{"p":7,"s":"mutations > 30","f":54},{"p":8,"s":"mutations < 30","f":7},{"p":8,"s":"mutations > 30","f":93},{"p":9,"s":"mutations < 30","f":2},{"p":9,"s":"mutations > 30","f":98}],
"pieids":[{"p":1},{"p":2},{"p":3},{"p":4},{"p":5},{"p":6},{"p":7},{"p":8},{"p":9}],
"pconn":[{"x1":0.772,"y1":1.343,"x2":0.942,"y2":0.765},{"x1":1.422,"y1":1.266,"x2":1.953,"y2":0.765},{"x1":2.072,"y1":1.343,"x2":2.877,"y2":0.765},{"x1":3.372,"y1":1.468,"x2":4.87,"y2":0.765},{"x1":3.697,"y1":1.48,"x2":5.809,"y2":0.755},{"x1":4.022,"y1":1.521,"x2":6.819,"y2":0.745},{"x1":6.296,"y1":1.307,"x2":7.758,"y2":0.745}],
"pconn2":[{"x1":8.894,"y1":1.02,"x2":8.93,"y2":0.77},{"x1":3.541,"y1":0.775,"x2":3.108,"y2":1.137}],
"chromo":[{"x":3.108,"y":1.137}],
"bars":[{"g":1,"t":"no SMG","v":22.8},{"g":1,"t":"no CGC","v":22.8},{"g":1,"t":"no mutation","v":17.1},{"g":2,"t":"no SMG","v":20.5},{"g":2,"t":"no CGC","v":17.1},{"g":2,"t":"no mutation","v":3.5},{"g":3,"t":"no SMG","v":42.6},{"g":3,"t":"no CGC","v":28.4},{"g":3,"t":"no mutation","v":7.2},{"g":4,"t":"no SMG","v":55.2},{"g":4,"t":"no CGC","v":42.9},{"g":5,"t":"no SMG","v":24.3},{"g":5,"t":"no CGC","v":9.1},{"g":5,"t":"no mutation","v":2.0},{"g":6,"t":"no SMG","v":21.8},{"g":6,"t":"no CGC","v":10.5},{"g":7,"t":"no SMG","v":12.5},{"g":7,"t":"no CGC","v":7.4},{"g":7,"t":"no mutation","v":0.3},{"g":8,"t":"no SMG","v":23.4},{"g":8,"t":"no CGC","v":4.3},{"g":9,"t":"no SMG","v":10.1},{"g":9,"t":"no CGC","v":6.4}],
"bconn":[{"x1":0.852,"y1":65.8,"x2":0.925,"y2":54.5},{"x1":1.786,"y1":65.2,"x2":1.943,"y2":53.9},{"x1":2.599,"y1":65.5,"x2":2.962,"y2":55.1},{"x1":4.394,"y1":65.5,"x2":4.94,"y2":54.5},{"x1":5.243,"y1":66.1,"x2":5.983,"y2":49.6},{"x1":6.092,"y1":66.1,"x2":6.977,"y2":49.6},{"x1":6.965,"y1":66.1,"x2":7.911,"y2":49.3},{"x1":7.778,"y1":65.5,"x2":8.967,"y2":51.6}],
"barrows":[{"g":0.925,"a":54.5,"b":45.8},{"g":1.943,"a":53.9,"b":45.5},{"g":2.962,"a":55.1,"b":46.4},{"g":4.94,"a":54.5,"b":46.4},{"g":5.983,"a":49.6,"b":40.9},{"g":6.977,"a":49.6,"b":41.4},{"g":7.911,"a":49.3,"b":37.4},{"g":8.967,"a":33.3,"b":24.0}],
"g4":[{"x1":3.423,"y1":67.5,"x2":3.714,"y2":58.8}]
},
"vconcat":[
{
 "title":{"text":"A","anchor":"start","frame":"bounds","fontSize":21,"fontWeight":"bold","offset":-4},
 "width":720,"height":312,
 "view":{"stroke":"#888"},
 "encoding":{"x":{"field":"c","type":"ordinal","scale":{"domain":[0,1,2,3,4,5,6,7,8,9,10,11,12,13,14,15,16,17,18,19,20,21,22,23,24,25,26,27,28,29,30,31],"paddingInner":0,"paddingOuter":0},"axis":null}},
 "layer":[
  {"data":{"name":"pts"},
   "transform":[{"window":[{"op":"row_number","as":"k"}],"groupby":["c"],"sort":[{"field":"v","order":"descending"}]}],
   "encoding":{"y":{"field":"v","type":"quantitative","scale":{"type":"log","domain":[0.01,1000],"nice":false},
     "axis":{"title":"Somatic mutation per Mbp (Log)","titleFont":"Lato","titleFontSize":16,"titleFontWeight":"bold","titlePadding":5,"values":[0.01,0.1,1,10,100,1000],"format":"~g","grid":false,"tickSize":5,"labelPadding":3,"domainColor":"#777","tickColor":"#777"}}},
   "layer":[
    {"transform":[{"filter":"datum.k % 3 == 1"}],"mark":{"type":"circle","size":18,"color":"#000","opacity":1}},
    {"transform":[{"filter":"datum.k % 3 == 2"}],"mark":{"type":"circle","size":18,"color":"#000","opacity":1,"xOffset":-3}},
    {"transform":[{"filter":"datum.k % 3 == 0"}],"mark":{"type":"circle","size":18,"color":"#000","opacity":1,"xOffset":3}}
   ]},
  {"data":{"name":"med"},"mark":{"type":"tick","color":"#d6606a","thickness":2,"size":11,"opacity":1},
   "encoding":{"y":{"field":"m","type":"quantitative","title":"Somatic mutation per Mbp (Log)","scale":{"type":"log","domain":[0.01,1000],"nice":false}}}}
 ]
},
{
 "width":720,"height":183,
 "encoding":{"x":{"field":"c","type":"ordinal","scale":{"domain":[0,1,2,3,4,5,6,7,8,9,10,11,12,13,14,15,16,17,18,19,20,21,22,23,24,25,26,27,28,29,30,31],"paddingInner":0,"paddingOuter":0},"axis":null}},
 "layer":[
  {"data":{"name":"cats"},"mark":{"type":"rect","strokeWidth":1},
   "encoding":{"color":{"field":"grp","type":"nominal","scale":{"domain":["a","b"],"range":["#cfe6ee","#b6d8e3"]},"legend":null},
               "stroke":{"field":"grp","type":"nominal","scale":{"domain":["a","b"],"range":["#cfe6ee","#b6d8e3"]},"legend":null}}},
  {"data":{"name":"cats"},"mark":{"type":"text","angle":270,"align":"right","baseline":"middle","fontSize":14,"color":"#1a1a1a"},
   "encoding":{"y":{"datum":0.988,"type":"quantitative","scale":{"domain":[0,1],"nice":false},"axis":null},"text":{"field":"name","type":"nominal"}}},
  {"data":{"name":"bandarrows"},"mark":{"type":"rule","color":"#9a9a9a","strokeWidth":1.5},
   "encoding":{"y":{"field":"a","type":"quantitative","scale":{"domain":[0,1],"nice":false},"axis":null},"y2":{"field":"b"}}},
  {"data":{"name":"bandarrows"},"mark":{"type":"point","shape":"M-1,1L0,0L1,1","filled":false,"size":50,"stroke":"#9a9a9a","strokeWidth":1.5,"opacity":1},
   "encoding":{"y":{"field":"b","type":"quantitative","scale":{"domain":[0,1],"nice":false},"axis":null}}}
 ]
},
{
 "title":{"text":"B","anchor":"start","frame":"group","dx":-57,"offset":-101,"fontSize":21,"fontWeight":"bold"},
 "width":608,"height":102,
 "layer":[
  {"data":{"name":"pies"},
   "transform":[{"stack":"f","groupby":["p"],"sort":[{"field":"s","order":"ascending"}],"as":["t0","t1"],"offset":"normalize"}],
   "mark":{"type":"arc","outerRadius":30},
   "encoding":{
    "x":{"field":"p","type":"quantitative","stack":null,"scale":{"domain":[0.61,9.39],"nice":false,"zero":false},"axis":null},
    "y":{"datum":0.48,"type":"quantitative","scale":{"domain":[0,1],"nice":false},"axis":null},
    "theta":{"field":"t0","type":"quantitative","stack":null,"scale":{"domain":[0,1],"range":[0,6.2832]}},
    "theta2":{"field":"t1"},
    "color":{"field":"s","type":"nominal","scale":{"domain":["mutations < 30","mutations > 30","no mutation"],"range":["#5a9597","#36595a","#a3f4f7"]},
     "legend":{"title":"Somatic mutations","orient":"none","legendX":623,"legendY":20,"symbolType":"M-1,-0.6H1V0.6H-1Z","symbolSize":400,"symbolStrokeWidth":0,"symbolOpacity":1,"labelFontSize":13,"titleFontSize":13,"titleFontWeight":"normal","rowPadding":3,"titlePadding":5}}
   }},
  {"data":{"name":"pieids"},"mark":{"type":"point","shape":"circle","size":2800,"filled":false,"stroke":"#2a3c3c","strokeWidth":0.9,"opacity":1},
   "encoding":{"x":{"field":"p","type":"quantitative","scale":{"domain":[0.61,9.39],"nice":false,"zero":false},"axis":null},
               "y":{"datum":0.48,"type":"quantitative","scale":{"domain":[0,1],"nice":false},"axis":null}}},
  {"data":{"name":"pconn"},"mark":{"type":"rule","color":"#a8a8a8","strokeWidth":1,"strokeDash":[3,3]},
   "encoding":{"x":{"field":"x1","type":"quantitative","scale":{"domain":[0.61,9.39],"nice":false,"zero":false},"axis":null},"x2":{"field":"x2"},
               "y":{"field":"y1","type":"quantitative","scale":{"domain":[0,1],"nice":false},"axis":null},"y2":{"field":"y2"}}},
  {"data":{"name":"pconn2"},"mark":{"type":"rule","color":"#9a9a9a","strokeWidth":1.5},
   "encoding":{"x":{"field":"x1","type":"quantitative","scale":{"domain":[0.61,9.39],"nice":false,"zero":false},"axis":null},"x2":{"field":"x2"},
               "y":{"field":"y1","type":"quantitative","scale":{"domain":[0,1],"nice":false},"axis":null},"y2":{"field":"y2"}}},
  {"data":{"name":"chromo"},"mark":{"type":"point","shape":"M-1,1L0,0L1,1","filled":false,"size":50,"stroke":"#9a9a9a","strokeWidth":1.5,"opacity":1,"angle":325},
   "encoding":{"x":{"field":"x","type":"quantitative","scale":{"domain":[0.61,9.39],"nice":false,"zero":false},"axis":null},
               "y":{"field":"y","type":"quantitative","scale":{"domain":[0,1],"nice":false},"axis":null}}}
 ]
},
{
 "width":742,"height":207,
 "resolve":{"axis":{"y":"independent"}},
 "layer":[
  {"data":{"name":"bars"},
   "encoding":{
    "x":{"field":"g","type":"quantitative","scale":{"domain":[0.5,9.5],"nice":false,"zero":false},
         "axis":{"values":[0.5,1.5,2.5,3.5,4.5,5.5,6.5,7.5,8.5,9.5],"grid":true,"gridColor":"#e3e3e3","ticks":false,"labels":false,"domainColor":"#222","domainWidth":1.5,"title":null}},
    "y":{"field":"v","type":"quantitative","stack":null,"scale":{"domain":[0,60],"nice":false},
         "axis":{"values":[0,10,20,30,40,50,60],"labelExpr":"datum.value + '%'","title":"Patients","titleFont":"Lato","titleFontSize":21,"titleFontWeight":"bold","titlePadding":6,"tickSize":5,"labelPadding":2,"domainColor":"#333","tickColor":"#333","grid":false}},
    "color":{"field":"t","type":"nominal","scale":{"domain":["no mutation","no CGC","no SMG"],"range":["#a3f4f7","#5a9597","#36595a"]},
     "legend":{"title":null,"orient":"none","legendX":637,"legendY":39,"symbolType":"M-1,-0.6H1V0.6H-1Z","symbolSize":400,"symbolStrokeWidth":0,"symbolOpacity":1,"labelFontSize":14,"rowPadding":5}}
   },
   "layer":[
    {"transform":[{"filter":"datum.t == 'no SMG'"}],"mark":{"type":"bar","size":41,"orient":"vertical"}},
    {"transform":[{"filter":"datum.t == 'no CGC'"}],"mark":{"type":"bar","size":25,"orient":"vertical"}},
    {"transform":[{"filter":"datum.t == 'no mutation'"}],"mark":{"type":"bar","size":8,"orient":"vertical"}}
   ]},
  {"data":{"name":"bconn"},"mark":{"type":"rule","color":"#a8a8a8","strokeWidth":1,"strokeDash":[3,3]},
   "encoding":{"x":{"field":"x1","type":"quantitative","title":null,"scale":{"domain":[0.5,9.5],"nice":false,"zero":false}},"x2":{"field":"x2"},
               "y":{"field":"y1","type":"quantitative","axis":null,"scale":{"domain":[0,60],"nice":false}},"y2":{"field":"y2"}}},
  {"data":{"name":"barrows"},"mark":{"type":"rule","color":"#9a9a9a","strokeWidth":1.5},
   "encoding":{"x":{"field":"g","type":"quantitative","title":null,"scale":{"domain":[0.5,9.5],"nice":false,"zero":false}},
               "y":{"field":"a","type":"quantitative","axis":null,"scale":{"domain":[0,60],"nice":false}},"y2":{"field":"b"}}},
  {"data":{"name":"barrows"},"mark":{"type":"point","shape":"M-1,1L0,0L1,1","filled":false,"size":50,"stroke":"#9a9a9a","strokeWidth":1.5,"opacity":1,"angle":180},
   "encoding":{"x":{"field":"g","type":"quantitative","title":null,"scale":{"domain":[0.5,9.5],"nice":false,"zero":false}},
               "y":{"field":"b","type":"quantitative","axis":null,"scale":{"domain":[0,60],"nice":false}}}},
  {"data":{"name":"g4"},"mark":{"type":"rule","color":"#9a9a9a","strokeWidth":1.5},
   "encoding":{"x":{"field":"x1","type":"quantitative","title":null,"scale":{"domain":[0.5,9.5],"nice":false,"zero":false}},"x2":{"field":"x2"},
               "y":{"field":"y1","type":"quantitative","axis":null,"scale":{"domain":[0,60],"nice":false}},"y2":{"field":"y2"}}},
  {"data":{"name":"g4"},"mark":{"type":"point","shape":"M-1,1L0,0L1,1","filled":false,"size":50,"stroke":"#9a9a9a","strokeWidth":1.5,"opacity":1,"angle":141},
   "encoding":{"x":{"field":"x2","type":"quantitative","title":null,"scale":{"domain":[0.5,9.5],"nice":false,"zero":false}},
               "y":{"field":"y2","type":"quantitative","scale":{"domain":[0,60],"nice":false},
                    "axis":{"orient":"left","values":[5,15,25,35,45,55],"labels":false,"tickSize":3,"domain":false,"title":null,"grid":false,"tickColor":"#333"}}}}
 ]
}
]
}
